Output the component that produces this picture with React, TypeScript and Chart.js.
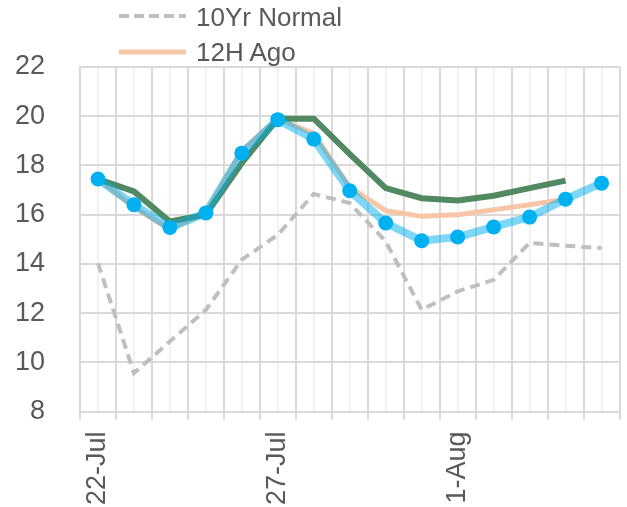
import React, { useEffect, useRef } from "react";
import { Chart, registerables } from "chart.js";

Chart.register(...registerables);

const categories = ["22-Jul","23-Jul","24-Jul","25-Jul","26-Jul","27-Jul","28-Jul","29-Jul","30-Jul","31-Jul","1-Aug","2-Aug","3-Aug","4-Aug","5-Aug"];
const latest = [17.45, 16.4, 15.48, 16.07, 18.5, 19.86, 19.07, 16.97, 15.66, 14.94, 15.09, 15.5, 15.9, 16.63, 17.28];
const prior24h = [17.45, 16.94, 15.72, 16.0, 18.1, 19.9, 19.9, 18.46, 17.08, 16.67, 16.58, 16.77, 17.08, 17.38];
const ago12h = [17.45, 16.3, 15.4, 16.1, 18.6, 19.9, 19.3, 17.12, 16.16, 15.93, 16.0, 16.2, 16.4, 16.63];
const normal10yr = [14.03, 9.56, 10.85, 12.13, 14.17, 15.18, 16.84, 16.47, 14.91, 12.13, 12.88, 13.35, 14.85, 14.74, 14.64];
const yTicks = [8, 10, 12, 14, 16, 18, 20, 22];

const FONT = "'Liberation Sans', Arial, sans-serif";
const TEXT = "#595959";

export default function App() {
  const ref = useRef<HTMLCanvasElement | null>(null);
  useEffect(() => {
    if (!ref.current) return;
    const chart = new Chart(ref.current, {
      type: "line",
      data: {
        labels: categories,
        datasets: [
          { label: "Latest", data: latest, borderColor: "rgba(0,176,240,0.5)", borderWidth: 8, pointRadius: 7.5, pointBackgroundColor: "#00B0F0", pointBorderWidth: 0, tension: 0, order: 0 },
          { label: "24H Ago", data: prior24h, borderColor: "rgb(80,137,98)", borderWidth: 6, pointRadius: 0, tension: 0, order: 1 },
          { label: "12H Ago", data: ago12h, borderColor: "#F6C6A6", borderWidth: 5, pointRadius: 0, tension: 0, order: 2 },
          { label: "10Yr Normal", data: normal10yr, borderColor: "#BFBFBF", borderWidth: 4, borderDash: [10, 6], pointRadius: 0, tension: 0, order: 3 },
        ],
      },
      options: {
        animation: false,
        responsive: false,
        maintainAspectRatio: false,
        layout: { padding: { top: 67, right: 5, left: 0, bottom: 0 } },
        plugins: { legend: { display: false }, tooltip: { enabled: false } },
        scales: {
          x: {
            type: "category",
            offset: true,
            grid: { offset: true, color: "#D9D9D9", lineWidth: 2, drawTicks: true, tickLength: 8, tickColor: "#D9D9D9", tickWidth: 2 },
            border: { display: true, color: "#D9D9D9", width: 2 },
            ticks: {
              autoSkip: false,
              maxRotation: 90,
              minRotation: 90,
              padding: 12,
              color: TEXT,
              font: { family: FONT, size: 27 },
              callback: (_v: any, i: number) => (i % 5 === 0 ? categories[i] : ""),
            },
            afterFit: (s: any) => { s.height = 95.5; s.paddingLeft = 0; s.paddingRight = 0; },
          },
          x2: {
            type: "category",
            position: "bottom",
            offset: true,
            grid: { offset: false, color: "#EEEEEE", lineWidth: 1.5, drawTicks: false },
            border: { display: false },
            ticks: { display: false },
            afterFit: (s: any) => { s.height = 0; s.paddingLeft = 0; s.paddingRight = 0; },
          },
          y: {
            min: 8,
            max: 22,
            afterBuildTicks: (s: any) => { s.ticks = yTicks.map((v) => ({ value: v })); },
            grid: { color: "#D9D9D9", lineWidth: 2, drawTicks: false },
            border: { display: true, color: "#D9D9D9", width: 2 },
            ticks: { padding: 35, color: TEXT, font: { family: FONT, size: 27 } },
            afterFit: (s: any) => { s.width = 80; },
          },
        },
      },
    });
    return () => chart.destroy();
  }, []);

  const legendText: React.CSSProperties = { position: "absolute", left: 196, fontFamily: FONT, fontSize: 26, color: TEXT, lineHeight: "30px", whiteSpace: "nowrap" };
  return (
    <div style={{ position: "fixed", left: 0, top: 0, width: 627, height: 507, background: "#fff", overflow: "hidden" }}>
      <canvas ref={ref} width={627} height={507} style={{ position: "absolute", left: 0, top: 0 }} />
      <svg width={627} height={80} style={{ position: "absolute", left: 0, top: 0 }}>
        <line x1={119} y1={16} x2={186} y2={16} stroke="#BFBFBF" strokeWidth={4} strokeDasharray="10 5" />
        <line x1={119} y1={52} x2={186} y2={52} stroke="#F6C6A6" strokeWidth={5} />
      </svg>
      <div style={{ ...legendText, top: 2 }}>10Yr Normal</div>
      <div style={{ ...legendText, top: 37 }}>12H Ago</div>
    </div>
  );
}
